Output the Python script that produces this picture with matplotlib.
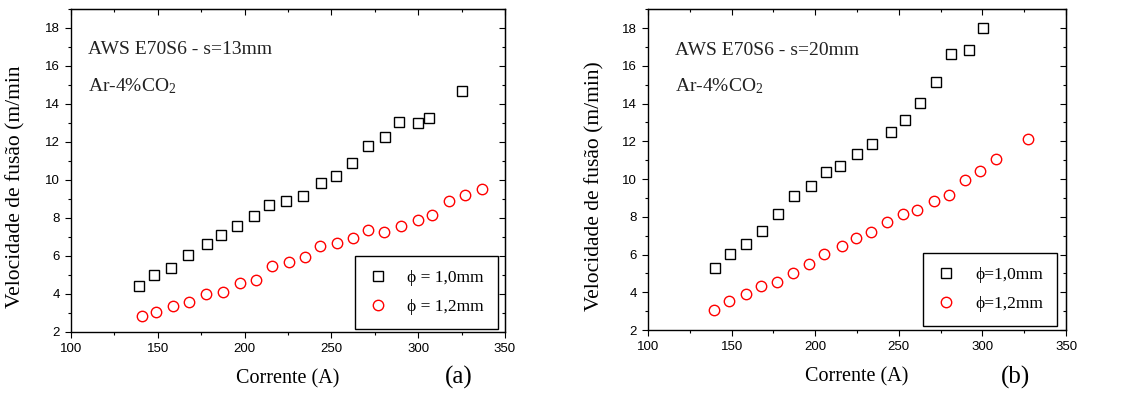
# melting rate vs current, two wire setups side by side
import matplotlib
matplotlib.use('Agg')
from matplotlib import pyplot as plt
from matplotlib.ticker import MultipleLocator

plt.rcParams['mathtext.fontset'] = 'custom'
plt.rcParams['mathtext.rm'] = 'Liberation Serif'
plt.rcParams['mathtext.it'] = 'Liberation Serif'

serif = ['Liberation Serif', 'DejaVu Serif']
sans = ['Liberation Sans', 'DejaVu Sans']

# panel (a): s = 13 mm
a_i10 = [139.4, 148.0, 157.8, 167.6, 178.5, 186.4, 195.4, 205.2, 214.2, 223.8,
         233.8, 244.0, 252.5, 261.7, 271.1, 281.1, 288.7, 300.1, 306.2, 325.4]
a_v10 = [4.40, 4.99, 5.38, 6.03, 6.62, 7.11, 7.58, 8.09, 8.67, 8.88,
         9.14, 9.84, 10.23, 10.89, 11.79, 12.24, 13.06, 13.01, 13.24, 14.67]
a_i12 = [140.9, 149.0, 158.6, 168.0, 177.8, 187.4, 197.4, 206.6, 216.0, 225.6, 234.6,
         243.4, 253.0, 262.2, 270.9, 280.5, 289.9, 299.9, 307.8, 317.7, 327.1, 336.6]
a_v12 = [2.82, 3.05, 3.38, 3.59, 4.01, 4.12, 4.56, 4.75, 5.45, 5.68, 5.92,
         6.55, 6.69, 6.92, 7.36, 7.27, 7.60, 7.90, 8.16, 8.88, 9.21, 9.53]

# panel (b): s = 20 mm
b_i10 = [139.9, 149.0, 158.8, 168.4, 178.0, 187.3, 197.5, 206.5, 214.8,
         224.8, 233.8, 245.1, 253.5, 262.5, 272.2, 281.4, 291.8, 300.2]
b_v10 = [5.31, 6.02, 6.58, 7.25, 8.15, 9.08, 9.65, 10.35, 10.70,
         11.32, 11.87, 12.50, 13.14, 14.04, 15.16, 16.64, 16.84, 18.02]
b_i12 = [139.3, 148.6, 158.6, 167.6, 177.2, 186.8, 196.3, 205.5, 215.8, 224.2,
         233.4, 243.0, 252.5, 261.1, 270.9, 280.3, 289.6, 298.6, 308.1, 327.1]
b_v12 = [3.06, 3.55, 3.90, 4.33, 4.56, 5.00, 5.51, 6.04, 6.46, 6.90,
         7.18, 7.73, 8.17, 8.34, 8.82, 9.17, 9.95, 10.42, 11.04, 12.10]

panels = [
    dict(rect=[0.0625, 0.1574, 0.382, 0.820], title='AWS E70S6 - s=13mm',
         data=(a_i10, a_v10, a_i12, a_v12),
         labels=('\u03d5 = 1,0mm', '\u03d5 = 1,2mm'),
         ylabel='Velocidade de fus\u00e3o (m/min', tag='(a)', tag_xy=(459, 377),
         note_x=0.039, ylab_x=-0.104, leg_xy=(0.984, 0.009)),
    dict(rect=[0.5704, 0.1624, 0.368, 0.814], title='AWS E70S6 - s=20mm',
         data=(b_i10, b_v10, b_i12, b_v12),
         labels=('\u03d5=1,0mm', '\u03d5=1,2mm'),
         ylabel='Velocidade de fus\u00e3o (m/min)', tag='(b)', tag_xy=(1016, 377),
         note_x=0.065, ylab_x=-0.105, leg_xy=(0.978, 0.012)),
]

W, H = 1136, 394
fig = plt.figure(figsize=(W / 100, H / 100), dpi=100)

for p in panels:
    ax = fig.add_axes(p['rect'])
    i10, v10, i12, v12 = p['data']
    ax.plot(i10, v10, ls='none', marker='s', ms=7, mfc='none', mec='black',
            mew=1.0, label=p['labels'][0])
    ax.plot(i12, v12, ls='none', marker='o', ms=7.5, mfc='none', mec='red',
            mew=1.0, label=p['labels'][1])

    ax.set_xlim(100, 350)
    ax.set_ylim(2, 19)
    ax.xaxis.set_major_locator(MultipleLocator(50))
    ax.xaxis.set_minor_locator(MultipleLocator(25))
    ax.yaxis.set_major_locator(MultipleLocator(2))
    ax.yaxis.set_minor_locator(MultipleLocator(1))
    for s in ax.spines.values():
        s.set_linewidth(1.0)

    # origin style: outward on bottom/left, inward on top/right
    ax.tick_params(which='both', direction='out', top=False, right=False,
                   width=0.8, labelsize=9.5)
    ax.tick_params(which='major', length=4.5)
    ax.tick_params(which='minor', length=2.5)
    for lab in ax.get_xticklabels() + ax.get_yticklabels():
        lab.set_family(sans)
    sec = ax.secondary_xaxis('top')
    sec.xaxis.set_major_locator(MultipleLocator(50))
    sec.xaxis.set_minor_locator(MultipleLocator(25))
    sec.tick_params(which='both', direction='in', labeltop=False, width=0.8)
    sec.tick_params(which='major', length=4.5)
    sec.tick_params(which='minor', length=2.5)
    secy = ax.secondary_yaxis('right')
    secy.yaxis.set_major_locator(MultipleLocator(2))
    secy.yaxis.set_minor_locator(MultipleLocator(1))
    secy.tick_params(which='both', direction='in', labelright=False, width=0.8)
    secy.tick_params(which='major', length=4.5)
    secy.tick_params(which='minor', length=2.5)

    ax.set_xlabel('Corrente (A)', family=serif, fontsize=14.5)
    ax.xaxis.set_label_coords(0.5, -0.115)
    ax.set_ylabel(p['ylabel'], family=serif, fontsize=15.5)
    ax.yaxis.set_label_coords(p['ylab_x'], 0.45)

    ax.text(p['note_x'], 0.873, p['title'], transform=ax.transAxes,
            family=serif, fontsize=14, va='center', color='#222222')
    ax.text(p['note_x'], 0.76, 'Ar-4%CO$_2$', transform=ax.transAxes,
            family=serif, fontsize=14, va='center', color='#222222')

    leg = ax.legend(loc='lower right', bbox_to_anchor=p['leg_xy'],
                    prop={'family': serif, 'size': 12.5},
                    fancybox=False, framealpha=1, edgecolor='black',
                    borderaxespad=0, handletextpad=1.2, labelspacing=0.75,
                    borderpad=0.8, handlelength=1.0)
    leg.get_frame().set_linewidth(1.0)

    fig.text(p['tag_xy'][0] / W, 1 - p['tag_xy'][1] / H, p['tag'],
             family=serif, fontsize=18, ha='center', va='center')

fig.savefig('out.png', dpi=100)
